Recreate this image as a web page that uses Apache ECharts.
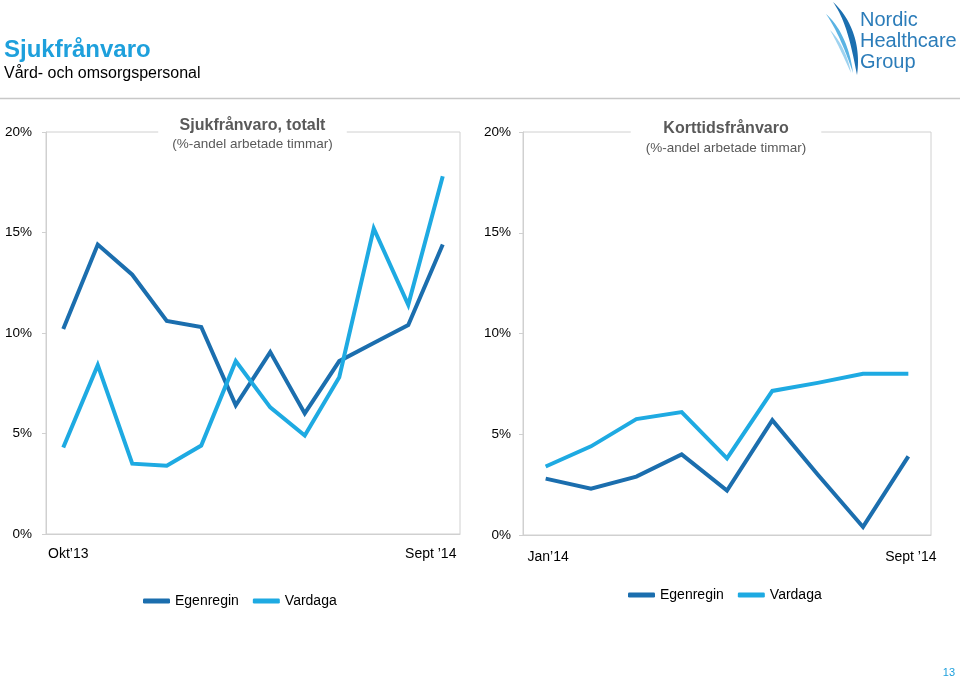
<!DOCTYPE html>
<html><head><meta charset="utf-8">
<script src="https://cdn.jsdelivr.net/npm/echarts@6/dist/echarts.min.js"></script>
<style>html,body{margin:0;padding:0;background:#fff}#c{width:960px;height:676px}</style>
</head><body><div id="c"></div>
<script>
// ---- data ----
const leftMonths = ['Okt’13','Nov','Dec','Jan','Feb','Mar','Apr','Maj','Jun','Jul','Aug','Sept ’14'];
const leftEgenregin = [10.2,14.4,12.9,10.6,10.3,6.4,9.05,6.0,8.6,9.5,10.4,14.4];
const leftVardaga = [4.3,8.4,3.5,3.4,4.4,8.6,6.3,4.9,7.8,15.2,11.4,17.8];
const rightMonths = ['Jan’14','Feb','Mar','Apr','Maj','Jun','Jul','Aug','Sept ’14'];
const rightEgenregin = [2.8,2.3,2.9,4.0,2.2,5.7,3.0,0.4,3.9];
const rightVardaga = [3.4,4.4,5.75,6.1,3.8,7.15,7.55,8.0,8.0];
const yTicks = [0,5,10,15,20];
const seriesNames = ['Egenregin','Vardaga'];

// ---- styles ----
const DARK = '#1b6eae';
const LIGHT = '#1eaae2';
const GRAY = '#d0d0d0';
const FONT = 'Liberation Sans, Arial, sans-serif';

const chart = echarts.init(document.getElementById('c'), null, {renderer:'canvas'});

function catData(arr, firstPad, lastPad){
  const last = arr.length - 1;
  return arr.map((m,i)=>{
    if(i===0) return {value:m, textStyle:{padding:firstPad}};
    if(i===last) return {value:m, textStyle:{padding:lastPad}};
    return m;
  });
}
function xAxis(idx, arr, firstPad, lastPad, margin){
  const last = arr.length - 1;
  return {
    type:'category', gridIndex:idx, boundaryGap:true,
    data: catData(arr, firstPad, lastPad),
    axisLine:{show:true, lineStyle:{color:GRAY, width:1}},
    axisTick:{show:false},
    axisLabel:{interval:(i)=> i===0 || i===last, color:'#000', fontSize:14, fontFamily:FONT, margin:margin},
    splitLine:{show:false}
  };
}
function yAxis(idx, margin){
  return {
    type:'value', gridIndex:idx,
    min:yTicks[0], max:yTicks[yTicks.length-1], interval:yTicks[1]-yTicks[0],
    axisLine:{show:true, lineStyle:{color:GRAY, width:1}},
    axisTick:{show:true, length:4, lineStyle:{color:GRAY}},
    axisLabel:{formatter:'{value}%', color:'#000', fontSize:13.5, fontFamily:FONT, margin:margin},
    splitLine:{show:false}
  };
}
function line(name, xi, data, color){
  return {
    name:name, type:'line', xAxisIndex:xi, yAxisIndex:xi, data:data,
    symbol:'none', smooth:false, color:color,
    lineStyle:{color:color, width:4, cap:'butt', join:'miter'},
    itemStyle:{color:color}, z:3
  };
}

// logo swoosh (decoration): crescent polygons from two cubic curves
function bez(p0,p1,p2,p3,n){
  const pts=[];
  for(let i=0;i<=n;i++){
    const t=i/n, u=1-t;
    pts.push([u*u*u*p0[0]+3*u*u*t*p1[0]+3*u*t*t*p2[0]+t*t*t*p3[0],
              u*u*u*p0[1]+3*u*u*t*p1[1]+3*u*t*t*p2[1]+t*t*t*p3[1]]);
  }
  return pts;
}
function crescent(a,b,c1o,c2o,c1i,c2i){
  return bez(a,c1o,c2o,b,24).concat(bez(b,c2i,c1i,a,24));
}

const option = {
  animation:false,
  backgroundColor:'#fff',
  textStyle:{fontFamily:FONT},
  title:[
    {text:'Sjukfrånvaro', left:4-5, top:38-5, padding:5,
     textStyle:{color:'#1ea0dc', fontSize:24, fontWeight:'bold', fontFamily:FONT}},
    {text:'Vård- och omsorgspersonal', left:4-5, top:66-5, padding:5,
     textStyle:{color:'#000', fontSize:16, fontWeight:'normal', fontFamily:FONT}},
    {text:'Sjukfrånvaro, totalt', subtext:'(%-andel arbetade timmar)',
     left:252.5-14, top:117, textAlign:'center', padding:[1,14,1,14], itemGap:3,
     backgroundColor:'#fff', z:10,
     textStyle:{color:'#595959', fontSize:16, fontWeight:'bold', fontFamily:FONT},
     subtextStyle:{color:'#595959', fontSize:13.5, fontFamily:FONT}},
    {text:'Korttidsfrånvaro', subtext:'(%-andel arbetade timmar)',
     left:726-15, top:120, textAlign:'center', padding:[1,15,1,15], itemGap:4,
     backgroundColor:'#fff', z:10,
     textStyle:{color:'#595959', fontSize:16, fontWeight:'bold', fontFamily:FONT},
     subtextStyle:{color:'#595959', fontSize:13.5, fontFamily:FONT}},
    {text:'Nordic\nHealthcare\nGroup', left:860-5, top:10-5, padding:5,
     textStyle:{color:'#2b7cb9', fontSize:20, fontWeight:'normal', lineHeight:21, fontFamily:FONT}},
    {text:'13', right:5-5, top:667-5, padding:5,
     textStyle:{color:'#1ea0dc', fontSize:11, fontWeight:'normal', fontFamily:FONT}}
  ],
  graphic:[
    {type:'line', shape:{x1:0, y1:98.5, x2:960, y2:98.5}, style:{stroke:'#c8c8c8', lineWidth:1.5}, silent:true},
    {type:'polygon', shape:{points:crescent([826,14],[853,73],[840,26],[850,48],[837,30],[846,52])}, style:{fill:'#5ab3e3'}, silent:true},
    {type:'polygon', shape:{points:crescent([830,30],[851,73],[840,40],[848,56],[838,44],[845,60])}, style:{fill:'#9fd3f0'}, silent:true},
    {type:'polygon', shape:{points:crescent([833,2],[857,75],[853,20],[861,48],[847,22],[852,50])}, style:{fill:'#1b6fb0'}, silent:true}
  ],
  legend:[
    {data:seriesNames, left:143, top:594, padding:0, icon:'roundRect', itemWidth:27, itemHeight:5, itemGap:14,
     textStyle:{color:'#000', fontSize:14, fontFamily:FONT}, selectedMode:false},
    {data:seriesNames, left:628, top:588, padding:0, icon:'roundRect', itemWidth:27, itemHeight:5, itemGap:14,
     textStyle:{color:'#000', fontSize:14, fontFamily:FONT}, selectedMode:false}
  ],
  grid:[
    {left:46, right:960-460, top:132, bottom:676-534, show:true, borderColor:GRAY, borderWidth:1, backgroundColor:'transparent'},
    {left:523, right:960-931, top:132, bottom:676-535, show:true, borderColor:GRAY, borderWidth:1, backgroundColor:'transparent'}
  ],
  xAxis:[
    xAxis(0, leftMonths, [0,0,0,10], [0,24,0,0], 13),
    xAxis(1, rightMonths, [0,0,0,5], [0,0,0,5], 15)
  ],
  yAxis:[ yAxis(0, 14), yAxis(1, 12) ],
  series:[
    line(seriesNames[0], 0, leftEgenregin, DARK),
    line(seriesNames[1], 0, leftVardaga, LIGHT),
    line(seriesNames[0], 1, rightEgenregin, DARK),
    line(seriesNames[1], 1, rightVardaga, LIGHT)
  ]
};
chart.setOption(option);
</script>
</body></html>
